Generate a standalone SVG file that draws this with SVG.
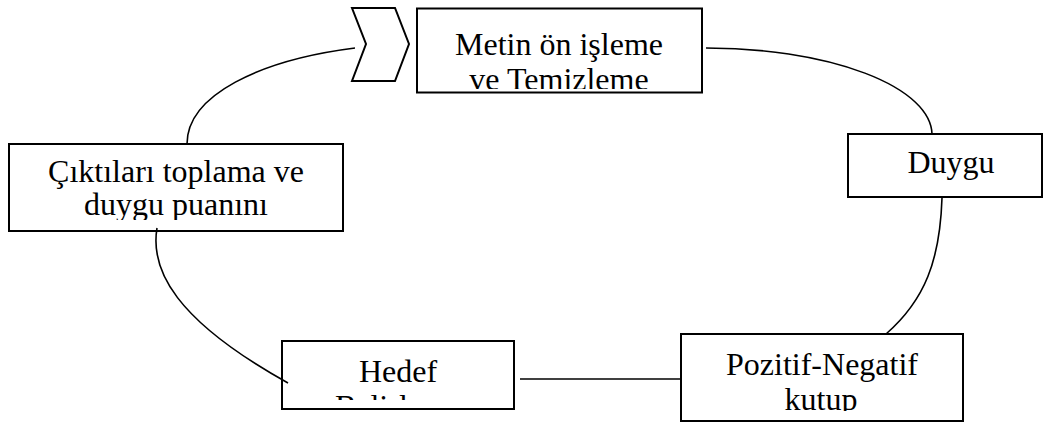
<svg xmlns="http://www.w3.org/2000/svg" width="1045" height="424" viewBox="0 0 1045 424">
<style>
.box{fill:#fff;stroke:#000;stroke-width:2}
.con{fill:none;stroke:#000;stroke-width:1.6}
.t{font-family:"Liberation Serif","Times New Roman",serif;font-size:32px;fill:#000;text-anchor:middle}
</style>
<defs>
<clipPath id="c1"><rect x="417" y="8" width="285" height="81"/></clipPath>
<clipPath id="c2"><rect x="9" y="144" width="334" height="76"/></clipPath>
<clipPath id="c4"><rect x="282" y="341" width="232" height="59"/></clipPath>
<clipPath id="c5"><rect x="681" y="334" width="282" height="77"/></clipPath>
</defs>
<rect width="1045" height="424" fill="#fff"/>
<g id="chevron">
<polygon class="box" stroke-width="1.6" points="352,8 395,8 409,44 395,81 352,81 366,44"/>
</g>
<g id="node-metin">
<rect class="box" x="417" y="8.5" width="285" height="84"/>
<g clip-path="url(#c1)">
<text class="t" x="559" y="55">Metin ön işleme</text>
<text class="t" x="559" y="90">ve Temizleme</text>
</g>
</g>
<g id="node-duygu">
<rect class="box" x="848" y="134" width="194" height="63"/>
<text class="t" x="951" y="173">Duygu</text>
</g>
<g id="node-pozitif">
<rect class="box" x="681" y="334" width="282" height="87"/>
<g clip-path="url(#c5)">
<text class="t" x="822" y="375">Pozitif-Negatif</text>
<text class="t" x="821" y="410">kutup</text>
</g>
</g>
<g id="node-hedef">
<rect class="box" x="282" y="341" width="232" height="68"/>
<g clip-path="url(#c4)">
<text class="t" x="398" y="382">Hedef</text>
<text class="t" x="398" y="417">Belirleme</text>
</g>
</g>
<g id="node-ciktilar">
<rect class="box" x="9" y="144" width="334" height="87"/>
<g clip-path="url(#c2)">
<text class="t" x="176" y="182">Çıktıları toplama ve</text>
<text class="t" x="176" y="215">duygu puanını</text>
</g>
</g>
<g id="connectors">
<path class="con" d="M355,48 C260,60 187,95 187,144"/>
<path class="con" d="M706,48 A226,87 0 0 1 932,134"/>
<path class="con" d="M942,198 C940,260 925,300 886,334"/>
<path class="con" d="M520,379 L680,379"/>
<path class="con" d="M157,228 C150,270 175,320 288,383"/>
</g>
</svg>
